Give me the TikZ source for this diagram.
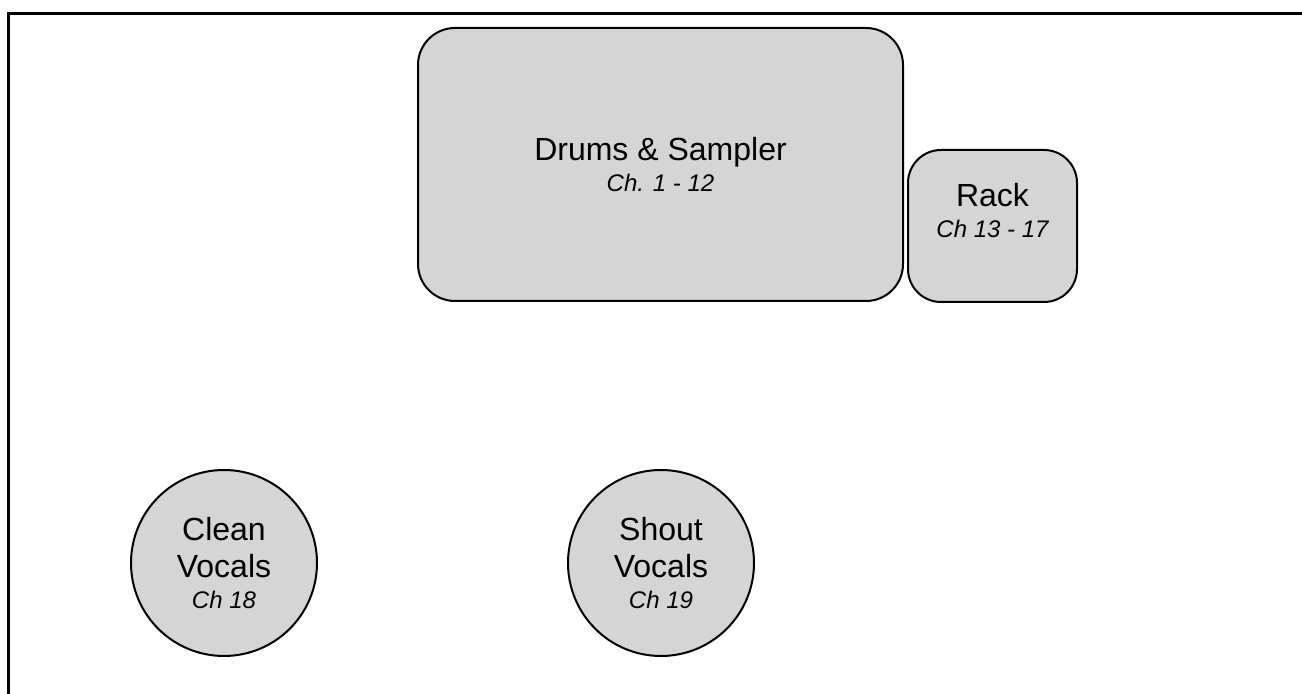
\documentclass[tikz,border=0pt]{standalone}
\usepackage{fontspec}
\setmainfont{Liberation Sans}
\usepackage{tikz}
\definecolor{stagegray}{RGB}{213,213,213}
\tikzset{
  gear/.style={draw, line width=1pt, fill=stagegray, align=center,
    font=\fontsize{16}{15.5}\selectfont, inner sep=0pt},
  gearbox/.style={gear, rectangle, rounded corners=#1},
  singer/.style={gear, circle, minimum size=93pt},
  gearlabel/.style={align=center, font=\fontsize{16}{15.5}\selectfont, inner sep=0pt}
}
\newcommand{\chlabel}[1]{{\itshape\fontsize{12}{15.5}\selectfont #1}}

\begin{document}
\begin{tikzpicture}[x=0.5pt,y=-0.5pt]
        \useasboundingbox (0,0) rectangle (1302,694);
        \clip (0,0) rectangle (1302,694);
        \draw[line width=1.5pt] (8.5,720) -- (8.5,13.5) -- (1330,13.5);
        \node[gearbox=18.5pt, minimum width=242.5pt, minimum height=136.5pt]
          (drums) at (660.5,164.5) {Drums \& Sampler\\\chlabel{Ch. 1 - 12}};
        \node[gearbox=16.5pt, minimum width=84.5pt, minimum height=76pt]
          (rack) at (992.5,226) {};
        \node[gearlabel] (racktext) at ([yshift=7.5pt]rack.center)
          {Rack\\\chlabel{Ch 13 - 17}};
        \node[singer] (clean) at (224,563)
          {Clean\\[3pt]Vocals\\\chlabel{Ch 18}};
        \node[singer] (shout) at (661,563)
          {Shout\\[3pt]Vocals\\\chlabel{Ch 19}};
    \end{tikzpicture}
\end{document}
